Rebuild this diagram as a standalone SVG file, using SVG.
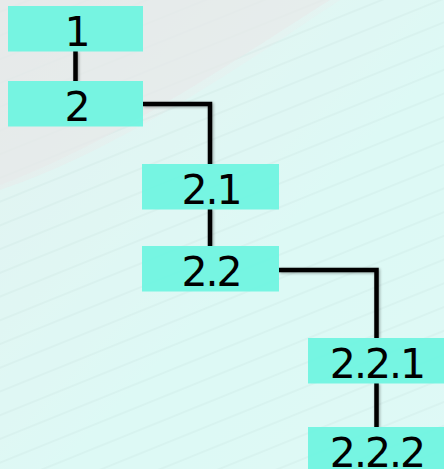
<svg xmlns="http://www.w3.org/2000/svg" width="444" height="469" viewBox="0 0 444 469">
<defs>
<linearGradient id="bg" x1="0" y1="0" x2="1" y2="1">
<stop offset="0" stop-color="#e6e9e9"/>
<stop offset="0.35" stop-color="#e4f3f1"/>
<stop offset="0.6" stop-color="#dcfaf5"/>
<stop offset="1" stop-color="#e0fbf7"/>
</linearGradient>
<pattern id="streaks" width="444" height="22" patternUnits="userSpaceOnUse" patternTransform="rotate(-22)">
<path d="M-50,11 H500" stroke="#bcd8d4" stroke-width="1" opacity="0.5"/>
</pattern>
<filter id="sh" x="-10%" y="-10%" width="120%" height="120%">
<feGaussianBlur in="SourceAlpha" stdDeviation="1.5"/>
<feOffset dx="1" dy="1" result="b"/>
<feComponentTransfer><feFuncA type="linear" slope="0.35"/></feComponentTransfer>
<feMerge><feMergeNode/><feMergeNode in="SourceGraphic"/></feMerge>
</filter>
</defs>
<style>
.box{fill:#70f4e0;opacity:0.95}
.lbl{font-family:"DejaVu Sans",Verdana,sans-serif;font-size:41px;letter-spacing:-2px;fill:#000;text-anchor:middle}
.ln{fill:none;stroke:#000;stroke-width:4.5;stroke-linejoin:miter}
</style>
<rect width="444" height="469" fill="url(#bg)"/>
<path d="M0,190 C120,150 250,60 340,0 H444 V469 H0 Z" fill="#def9f5" opacity="0.6"/>
<rect width="444" height="469" fill="url(#streaks)" opacity="0.7"/>
<path d="M0,0 H330 C250,50 120,140 0,185 Z" fill="#e7e9e9" opacity="0.7"/>
<g id="connectors" filter="url(#sh)">
<path class="ln" d="M75.5,51 V81"/>
<path class="ln" d="M143,104 H210 V164"/>
<path class="ln" d="M210,209 V246"/>
<path class="ln" d="M279,270 H376.5 V338"/>
<path class="ln" d="M376.5,383 V427"/>
</g>
<g id="n1"><rect class="box" x="8" y="6" width="135" height="45.5"/><text class="lbl" x="76.5" y="45.5">1</text></g>
<g id="n2"><rect class="box" x="8" y="81" width="135" height="45.5"/><text class="lbl" x="76.5" y="120.5">2</text></g>
<g id="n21"><rect class="box" x="142" y="164" width="137" height="45.5"/><text class="lbl" x="211" y="203.5">2.1</text></g>
<g id="n22"><rect class="box" x="142" y="246" width="137" height="45.5"/><text class="lbl" x="211" y="285.5">2.2</text></g>
<g id="n221"><rect class="box" x="308" y="338" width="137" height="45.5"/><text class="lbl" x="377" y="377.5">2.2.1</text></g>
<g id="n222"><rect class="box" x="308" y="427" width="137" height="45.5"/><text class="lbl" x="377" y="466.5">2.2.2</text></g>
</svg>
